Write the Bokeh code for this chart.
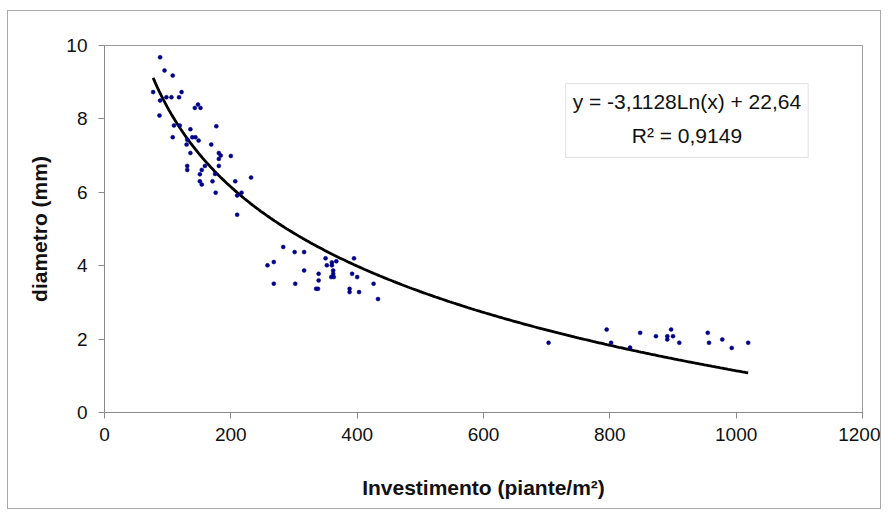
import numpy as np
from bokeh.plotting import figure
from bokeh.models import Range1d, FixedTicker, Label, BoxAnnotation
from bokeh.embed import file_html
from bokeh.resources import INLINE

# ---- data ----
investimento = [
    88, 95, 108, 77, 88, 98, 106, 118, 122, 143, 148, 152, 87, 110, 119, 136, 177,
    108, 131, 139, 144, 149, 130, 169, 136, 181, 184, 181, 200, 131, 131, 159, 181,
    154, 151, 175, 151, 154, 171, 207, 232, 176, 210, 217, 210,
    283, 301, 316, 258, 268, 268, 302, 316, 339, 339, 335, 338, 350, 352, 360, 360,
    367, 362, 362, 359, 363, 395, 392, 400, 388, 388, 403, 426, 433,
    703, 795, 802, 832, 848, 873, 891, 891, 897, 900, 910, 955, 957, 978, 993, 1019,
]
diametro = [
    9.68, 9.32, 9.18, 8.73, 8.50, 8.59, 8.59, 8.59, 8.73, 8.30, 8.39, 8.30, 8.09, 7.82, 7.82, 7.72, 7.80,
    7.50, 7.43, 7.50, 7.50, 7.41, 7.30, 7.30, 7.07, 7.07, 7.00, 6.91, 6.99, 6.72, 6.61, 6.72, 6.72,
    6.61, 6.49, 6.50, 6.30, 6.21, 6.30, 6.30, 6.40, 5.99, 5.91, 5.99, 5.39,
    4.51, 4.37, 4.37, 4.01, 4.10, 3.51, 3.51, 3.87, 3.78, 3.60, 3.37, 3.37, 4.20, 4.01, 4.09, 4.01,
    4.12, 3.87, 3.78, 3.69, 3.69, 4.20, 3.78, 3.69, 3.37, 3.28, 3.28, 3.51, 3.09,
    1.90, 2.26, 1.90, 1.77, 2.17, 2.08, 2.08, 1.99, 2.26, 2.08, 1.90, 2.17, 1.90, 1.99, 1.76, 1.90,
]
# logarithmic trend line as printed on the chart
trend_slope = -3.1128
trend_intercept = 22.64
equation_text = "y = -3,1128Ln(x) + 22,64"
r2_text = "R\u00b2 = 0,9149"

x_ticks = [0, 200, 400, 600, 800, 1000, 1200]
y_ticks = [0, 2, 4, 6, 8, 10]
x_label = "Investimento (piante/m\u00b2)"
y_label = "diametro (mm)"

FONT = "Liberation Sans"

p = figure(width=874, height=499, output_backend="svg", toolbar_location=None,
           x_range=Range1d(0, 1200), y_range=Range1d(0, 10),
           min_border_left=96, min_border_right=20, min_border_top=34, min_border_bottom=98,
           margin=(10, 0, 0, 7))
p.styles = {"border": "1px solid #a8a8a8"}
p.background_fill_color = "white"
p.border_fill_color = "white"
p.outline_line_color = "#9a9a9a"
p.outline_line_width = 1
p.xgrid.visible = False
p.ygrid.visible = False

for ax, ticks in ((p.xaxis, x_ticks), (p.yaxis, y_ticks)):
    ax.ticker = FixedTicker(ticks=ticks)
    ax.minor_tick_line_color = None
    ax.major_tick_in = 0
    ax.major_tick_out = 6
    ax.axis_line_color = "#8a8a8a"
    ax.major_tick_line_color = "#8a8a8a"
    ax.major_label_text_font = FONT
    ax.major_label_text_font_size = "19px"
    ax.major_label_text_color = "#111111"
    ax.axis_label_text_font = FONT
    ax.axis_label_text_font_size = "21px"
    ax.axis_label_text_font_style = "bold"
    ax.axis_label_text_color = "#111111"

p.xaxis.axis_label = x_label
p.yaxis.axis_label = y_label
p.xaxis.major_label_standoff = 9
p.yaxis.major_label_standoff = 11
p.xaxis.axis_label_standoff = 32
p.yaxis.axis_label_standoff = 12

# trend line over the data range
tx = np.linspace(min(investimento), max(investimento), 300)
ty = trend_slope * np.log(tx) + trend_intercept
p.line(tx, ty, line_color="black", line_width=2.8)

p.scatter(investimento, diametro, size=4, fill_color="#00008b", line_color="#00008b", line_width=0.5)

# equation box
p.add_layout(BoxAnnotation(left=730, right=1114, top=8.96, bottom=6.95,
                           fill_color="white", fill_alpha=1.0,
                           line_color="#9a9a9a", line_width=1, level="overlay"))
p.add_layout(Label(x=922, y=8.47, text=equation_text, text_align="center", text_baseline="middle",
                   text_font=FONT, text_font_size="21px", text_color="#111111", level="overlay"))
p.add_layout(Label(x=922, y=7.55, text=r2_text, text_align="center", text_baseline="middle",
                   text_font=FONT, text_font_size="21px", text_color="#111111", level="overlay"))

open("out.html", "w").write(file_html(p, INLINE))
